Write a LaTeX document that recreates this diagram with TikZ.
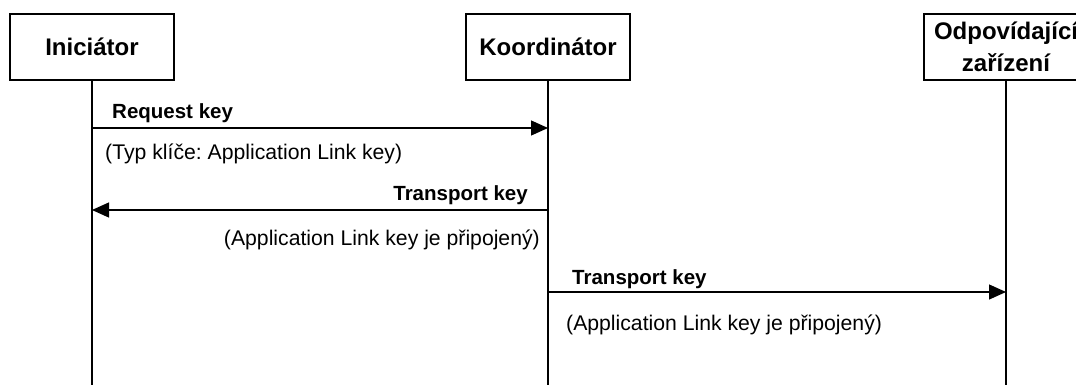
\documentclass[tikz,border=0pt]{standalone}
\usepackage{fontspec}
\setmainfont{Liberation Sans}
\usetikzlibrary{arrows.meta}
\frenchspacing

\begin{document}
\begin{tikzpicture}
		[x=1pt,y=-1pt,
		%Styles
		party/.style={draw,line width=1.3pt,minimum width=164pt,minimum height=66pt,inner sep=0pt,align=center,font=\fontsize{24}{32}\selectfont\bfseries},
		life line/.style={line width=1.3pt},
		message/.style={line width=1.3pt,-{Triangle[length=17pt,width=15pt]}},
		message title/.style={inner sep=0pt,font=\fontsize{20.5}{24}\selectfont\bfseries},
		message note/.style={inner sep=0pt,font=\fontsize{21.2}{25}\selectfont}
		]
		
		\useasboundingbox (0,0) rectangle (1076,385);
		\clip (0,0) rectangle (1076,385);
		
		%The graphic
		\node[party] (ini) at (92,47) {Iniciátor};
		\node[party] (koo) at (548,47) {Koordinátor};
		\node[party] (odp) at (1006,47) {Odpovídající\\zařízení};
		
		\draw[life line] (ini.south) -- (ini.south |- 0,385);
		\draw[life line] (koo.south) -- (koo.south |- 0,385);
		\draw[life line] (odp.south) -- (odp.south |- 0,385);
		
		\coordinate (ini-req) at (ini |- 0,128);
		\coordinate (koo-req) at (koo |- 0,128);
		\coordinate (koo-tr1) at (koo |- 0,210);
		\coordinate (ini-tr1) at (ini |- 0,210);
		\coordinate (koo-tr2) at (koo |- 0,292);
		\coordinate (odp-tr2) at (odp |- 0,292);
		
		\draw[message] (ini-req) -- (koo-req);
		\draw[message] (koo-tr1) -- (ini-tr1);
		\draw[message] (koo-tr2) -- (odp-tr2);
		
		\node[message title,anchor=base west] (req) at (112,119) {Request key};
		\node[message note,anchor=base west] (req-note) at (105,160) {(Typ klíče: Application Link key)};
		\node[message title,anchor=base east] (tr1) at (528,200) {Transport key};
		\node[message note,anchor=base east] (tr1-note) at (540,245) {(Application Link key je připojený)};
		\node[message title,anchor=base west] (tr2) at (572,284) {Transport key};
		\node[message note,anchor=base west] (tr2-note) at (566,330) {(Application Link key je připojený)};
	\end{tikzpicture}
\end{document}
